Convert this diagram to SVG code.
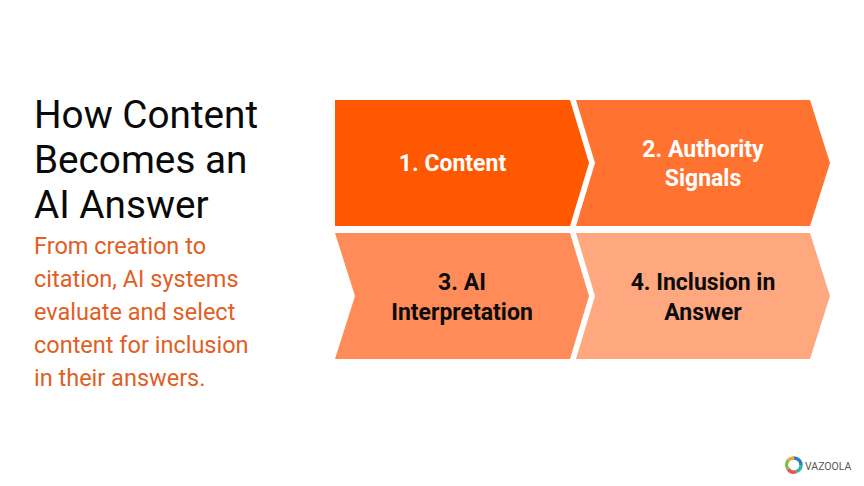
<svg xmlns="http://www.w3.org/2000/svg" width="864" height="486" viewBox="0 0 864 486">
  <style>
    text { font-family: Roboto, "Liberation Sans", sans-serif; }
    .title { font-size: 38.7px; fill: #0a0a0a; }
    .sub { font-size: 23.5px; fill: #e0601f; }
    .lab { font-size: 23px; font-weight: 700; text-anchor: middle; }
    .w { fill: #ffffff; }
    .k { fill: #0c0c0c; }
    .ring { fill: none; stroke-width: 3.4; }
  </style>
  <rect width="864" height="486" fill="#ffffff"/>
  <g id="title">
    <text class="title" x="34" y="128">How Content</text>
    <text class="title" x="34" y="173">Becomes an</text>
    <text class="title" x="34" y="218">AI Answer</text>
  </g>
  <g id="subtitle">
    <text class="sub" x="34" y="254">From creation to</text>
    <text class="sub" x="34" y="287">citation, AI systems</text>
    <text class="sub" x="34" y="320">evaluate and select</text>
    <text class="sub" x="34" y="353">content for inclusion</text>
    <text class="sub" x="34" y="386">in their answers.</text>
  </g>
  <g id="step1">
    <polygon points="335,100 570,100 589,163 570,226 335,226" fill="#ff5800"/>
    <text class="lab w" x="452.500" y="171">1. Content</text>
  </g>
  <g id="step2">
    <polygon points="576,100 810,100 830,163 810,226 576,226 595,163" fill="#ff7230"/>
    <text class="lab w" x="703" y="157">2. Authority</text>
    <text class="lab w" x="703" y="186">Signals</text>
  </g>
  <g id="step3">
    <polygon points="335,233 570,233 589,296 570,359 335,359 355,296" fill="#ff8b58"/>
    <text class="lab k" x="462" y="290">3. AI</text>
    <text class="lab k" x="462" y="320">Interpretation</text>
  </g>
  <g id="step4">
    <polygon points="576,233 810,233 830,296 810,359 576,359 595,296" fill="#ffa880"/>
    <text class="lab k" x="703" y="290">4. Inclusion in</text>
    <text class="lab k" x="703" y="320">Answer</text>
  </g>
  <g id="logo">
    <path class="ring" stroke="#f2a33a" d="M788.500 460 A7 7 0 0 1 794 458"/>
    <path class="ring" stroke="#2f7fc1" d="M794 458 A7 7 0 0 1 801 465"/>
    <path class="ring" stroke="#35b6a6" d="M801 465 A7 7 0 0 1 796 471.700"/>
    <path class="ring" stroke="#e2574c" d="M796 471.700 A7 7 0 0 1 788 469"/>
    <path class="ring" stroke="#7cc04b" d="M788 469 A7 7 0 0 1 788.500 460"/>
    <text x="805" y="470" font-size="10.500" fill="#555555">VAZOOLA</text>
  </g>
</svg>
